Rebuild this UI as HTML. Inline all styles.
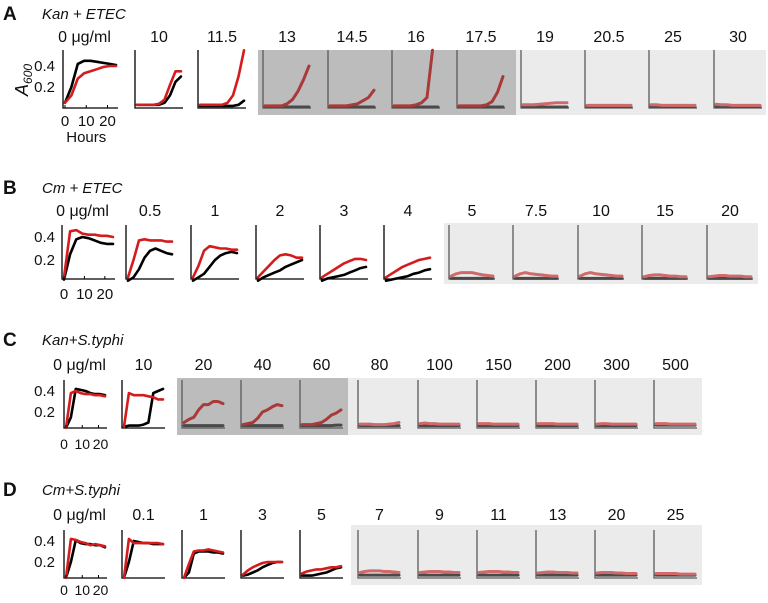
<!DOCTYPE html>
<html><head><meta charset="utf-8"><style>
html,body{margin:0;padding:0;background:#fff;}
svg{display:block;font-family:"Liberation Sans",sans-serif;}
</style></head><body>
<svg id="fig" width="768" height="603" viewBox="0 0 768 603" xmlns="http://www.w3.org/2000/svg"></svg>
<script>
// ---- data ----
const times = [0,3,6,9,12,15,18,21,24];
const concA = ["0 \u03bcg/ml","10","11.5","13","14.5","16","17.5","19","20.5","25","30"];
const redA = [
 [.05,.12,.28,.33,.35,.37,.39,.40,.40],
 [.03,.03,.03,.03,.04,.08,.22,.35,.35],
 [.03,.03,.03,.03,.03,.05,.12,.30,.55],
 [.02,.02,.02,.02,.04,.08,.16,.27,.40],
 [.02,.02,.02,.02,.03,.04,.07,.10,.17],
 [.02,.02,.02,.02,.03,.05,.10,.55],
 [.02,.02,.02,.02,.02,.03,.06,.15,.30],
 [.03,.03,.03,.035,.04,.045,.05,.05,.05],
 [.025,.025,.025,.025,.025,.025,.025,.025,.025],
 [.03,.03,.025,.025,.025,.025,.025,.025,.025],
 [.035,.03,.03,.025,.025,.025,.025,.025,.025]];
const blackA = [
 [.05,.20,.42,.45,.45,.44,.43,.42,.41],
 [.03,.03,.03,.03,.03,.05,.12,.25,.30],
 [.02,.02,.02,.02,.02,.02,.02,.03,.07],
 [.01,.01,.01,.01,.01,.01,.01,.01,.01],
 [.01,.01,.01,.01,.01,.01,.01,.01,.01],
 [.01,.01,.01,.01,.01,.01,.01,.01,.01],
 [.01,.01,.01,.01,.01,.01,.01,.01,.01],
 [.01,.01,.01,.01,.01,.01,.01,.01,.01],
 [.015,.015,.015,.015,.015,.015,.015,.015,.015],
 [.015,.015,.015,.015,.015,.015,.015,.015,.015],
 [.015,.015,.015,.015,.015,.015,.015,.015,.015]];
const concB = ["0 \u03bcg/ml","0.5","1","2","3","4","5","7.5","10","15","20"];
const redB = [
 [.05,.45,.46,.43,.42,.42,.41,.41,.40],
 [.05,.20,.37,.38,.37,.37,.37,.36,.36],
 [.05,.15,.28,.32,.31,.30,.30,.29,.29],
 [.05,.10,.15,.20,.24,.25,.24,.22,.22],
 [.05,.08,.11,.14,.17,.19,.21,.21,.20],
 [.05,.08,.11,.14,.16,.18,.20,.21,.22],
 [.06,.08,.09,.09,.09,.08,.07,.065,.06],
 [.06,.08,.09,.08,.075,.07,.065,.06,.06],
 [.06,.08,.09,.08,.075,.07,.065,.06,.06],
 [.055,.065,.07,.07,.065,.06,.06,.055,.055],
 [.055,.06,.065,.065,.06,.06,.06,.055,.055]];
const blackB = [
 [.03,.25,.38,.40,.39,.37,.35,.34,.34],
 [.02,.05,.12,.22,.28,.30,.28,.26,.25],
 [.02,.05,.08,.14,.20,.24,.26,.27,.26],
 [.02,.05,.07,.09,.11,.14,.16,.18,.20],
 [.02,.04,.05,.06,.07,.09,.11,.13,.14],
 [.02,.03,.04,.05,.06,.08,.09,.11,.12],
 [.04,.04,.04,.04,.04,.04,.04,.04,.04],
 [.04,.04,.04,.04,.04,.04,.04,.04,.04],
 [.04,.04,.04,.04,.04,.04,.04,.04,.04],
 [.04,.04,.04,.04,.04,.04,.04,.04,.04],
 [.04,.04,.04,.04,.04,.04,.04,.04,.04]];
const concC = ["0 \u03bcg/ml","10","20","40","60","80","100","150","200","300","500"];
const redC = [
 [.05,.38,.40,.38,.37,.37,.36,.36,.35],
 [.06,.38,.36,.36,.36,.35,.34,.32,.32],
 [.10,.13,.15,.22,.27,.27,.30,.30,.28],
 [.08,.09,.10,.14,.20,.22,.25,.27,.26],
 [.08,.08,.08,.09,.10,.13,.17,.19,.22],
 [.085,.085,.085,.08,.08,.08,.085,.09,.10],
 [.09,.095,.09,.09,.085,.085,.085,.085,.085],
 [.09,.09,.09,.085,.085,.085,.085,.085,.085],
 [.09,.09,.09,.09,.085,.085,.085,.085,.085],
 [.085,.09,.09,.085,.085,.085,.085,.085,.085],
 [.09,.09,.09,.085,.085,.085,.085,.085,.085]];
const blackC = [
 [.05,.15,.42,.41,.40,.38,.37,.37,.36],
 [.06,.07,.07,.07,.08,.10,.38,.40,.42],
 [.07,.07,.07,.07,.07,.07,.07,.07,.07],
 [.07,.07,.07,.07,.07,.07,.07,.07,.07],
 [.07,.07,.07,.07,.07,.07,.07,.075,.075],
 [.07,.07,.07,.07,.07,.07,.07,.07,.07],
 [.07,.07,.07,.07,.07,.07,.07,.07,.07],
 [.07,.07,.07,.07,.07,.07,.07,.07,.07],
 [.07,.07,.07,.07,.07,.07,.07,.07,.07],
 [.07,.07,.07,.07,.07,.07,.07,.07,.07],
 [.075,.075,.075,.075,.075,.075,.075,.075,.075]];
const concD = ["0 \u03bcg/ml","0.1","1","3","5","7","9","11","13","20","25"];
const redD = [
 [.05,.42,.41,.39,.38,.36,.37,.36,.35],
 [.05,.42,.38,.38,.38,.38,.38,.38,.37],
 [.05,.18,.30,.31,.31,.32,.31,.30,.29],
 [.08,.12,.15,.17,.19,.20,.20,.20,.20],
 [.09,.11,.12,.13,.13,.14,.15,.15,.16],
 [.10,.11,.115,.115,.115,.11,.11,.105,.10],
 [.10,.105,.11,.11,.11,.105,.105,.10,.10],
 [.10,.105,.11,.11,.11,.105,.105,.10,.10],
 [.095,.10,.105,.105,.10,.10,.10,.095,.095],
 [.095,.10,.10,.10,.095,.095,.09,.09,.09],
 [.09,.09,.09,.09,.09,.085,.085,.085,.085]];
const blackD = [
 [.05,.20,.41,.38,.37,.37,.36,.36,.34],
 [.05,.20,.40,.39,.38,.38,.37,.37,.37],
 [.05,.10,.28,.30,.30,.30,.29,.29,.28],
 [.07,.08,.10,.12,.15,.17,.19,.20,.20],
 [.07,.07,.07,.08,.09,.10,.12,.14,.15],
 [.075,.075,.075,.075,.075,.075,.075,.075,.075],
 [.075,.075,.075,.075,.075,.075,.075,.075,.075],
 [.075,.075,.075,.075,.075,.075,.075,.075,.075],
 [.075,.075,.075,.075,.075,.075,.075,.075,.075],
 [.075,.075,.075,.075,.075,.075,.075,.075,.075],
 [.075,.075,.075,.075,.075,.075,.075,.075,.075]];

// ---- layout ----
const NS = "http://www.w3.org/2000/svg";
const svg = document.getElementById("fig");
function mk(tag, attrs, parent){
  const e = document.createElementNS(NS, tag);
  for (const k in attrs) e.setAttribute(k, attrs[k]);
  (parent||svg).appendChild(e);
  return e;
}
function txt(s, x, y, size, extra, name){
  const t = mk("text", Object.assign({x:x, y:y, "font-size":size, fill:"#111"}, extra||{}));
  t.textContent = s;
  
  
  return t;
}
const rows = [
 {letter:"A", title:"Kan + ETEC", ly:20, tly:42, top:50, bot:108, y04:66, k:105,
  lefts:[63,135,198,263,328,392,457,521,585,649,714], w:[55,48,48,48,48,48,48,48,48,48,48],
  conc:concA, red:redA, black:blackA,
  bgs:[{x:258,y:50,w:258,h:65,c:"#bcbcbc",from:3,to:6},{x:516,y:50,w:250,h:65,c:"#ebebeb",from:7,to:10}], hours:true, tickY:126},
 {letter:"B", title:"Cm + ETEC", ly:194, tly:216, top:225, bot:279, y04:237, k:115,
  lefts:[62,126,191,256,320,384,449,513,578,642,707], w:[53,48,48,48,48,48,46,46,46,46,46],
  conc:concB, red:redB, black:blackB,
  bgs:[{x:444,y:223,w:314,h:61,c:"#ebebeb",from:6,to:10}], tickY:299},
 {letter:"C", title:"Kan+S.typhi", ly:346, tly:370, top:380, bot:428, y04:391, k:105,
  lefts:[64,122,182,241,300,358,418,477,536,595,654], w:[43,43,43,43,43,43,43,43,43,43,43],
  conc:concC, red:redC, black:blackC,
  bgs:[{x:177,y:378,w:171,h:57,c:"#bcbcbc",from:2,to:4},{x:348,y:378,w:354,h:57,c:"#ebebeb",from:5,to:10}], tickY:449},
 {letter:"D", title:"Cm+S.typhi", ly:496, tly:520, top:530, bot:578, y04:541, k:105,
  lefts:[64,122,182,241,300,358,418,477,536,595,654], w:[43,43,43,43,43,43,43,43,43,43,43],
  conc:concD, red:redD, black:blackD,
  bgs:[{x:351,y:525,w:351,h:60,c:"#ebebeb",from:5,to:10}], tickY:595}
];

rows.forEach((r, ri) => {
  const g = mk("g", {});
  
  
  txt(r.letter, 3, r.ly, 19, {"font-weight":"bold"}, 'panel-letter-' + r.letter.toLowerCase());
  txt(r.title, 42, r.ly - 1, 15, {"font-style":"italic"}, 'panel-title-' + r.letter.toLowerCase());
  r.bgs.forEach((b, bi) => {
    const rc = mk("rect", {x:b.x, y:b.y, width:b.w, height:b.h, fill:b.c}, g);
    
    
  });
  function bgOf(i){ for (const b of r.bgs) if (i>=b.from && i<=b.to) return b.c; return null; }
  const yS = v => Math.max(r.top, Math.min(r.bot + 2, r.y04 + (0.4 - v) * r.k));
  txt("0.4", 55, r.y04 + 5, 15, {"text-anchor":"end"}, 'y-tick-label');
  txt("0.2", 55, r.y04 + 0.2*r.k + 5, 15, {"text-anchor":"end"}, 'y-tick-label');
  if (r.hours) {
    const yl = txt("A", 0, 0, 18, {"font-style":"italic", transform:"translate(28,96) rotate(-90)"}, 'y-axis-title');
    const sub = mk("tspan", {"font-size":12, dy:4}, yl); sub.textContent = "600";
  }
  r.conc.forEach((c, i) => {
    const L = r.lefts[i], W = r.w[i];
    const bg = bgOf(i);
    const xS = t => L + 2 + (t / 24) * (W - 4);
    const cg = mk("g", {}, g);
    
    
    let cx = L + W/2; if (i === 0) cx = L + W/2 - 6;
    txt(c, cx, r.tly, 16, {"text-anchor":"middle"}, 'concentration-label');
    const axc = bg ? "#5a5a5a" : "#000";
    const ax = mk("path", {d:`M${L},${r.top} L${L},${r.bot} L${L+W},${r.bot}`, fill:"none", stroke:axc, "stroke-width":1.3}, cg);
    
    
    const redCol = bg === "#bcbcbc" ? "#a83a3a" : (bg ? "#d06a6a" : "#d41c1c");
    const blkCol = bg ? "#4a4a4a" : "#000";
    const series = [[r.black[i], blkCol, 'control-curve'], [r.red[i], redCol, 'treated-curve']];
    series.forEach(([vals, col, nm]) => {
      const d = vals.map((v, j) => (j ? "L" : "M") + xS(times[j]).toFixed(1) + "," + yS(v).toFixed(1)).join(" ");
      const p = mk("path", {d:d, fill:"none", stroke:col, "stroke-width":bg ? 3 : 2.6, "stroke-linejoin":"round", "stroke-linecap":"round"}, cg);
      
      
    });
    if (i === 0) {
      [0,10,20].forEach(t => {
        mk("line", {x1:xS(t), y1:r.bot, x2:xS(t), y2:r.bot-3, stroke:"#000", "stroke-width":1}, cg);
      });
      const fs = W < 50 ? 14 : 15;
      [0,10,20].forEach(t => txt(String(t), xS(t) + (W < 50 ? (t/10-1)*2 : 0), r.tickY, fs, {"text-anchor":"middle"}, 'x-tick-label'));
      if (r.hours) txt("Hours", xS(10), r.tickY + 16, 15, {"text-anchor":"middle"}, 'x-axis-title');
    }
  });
});
</script>
</body></html>
